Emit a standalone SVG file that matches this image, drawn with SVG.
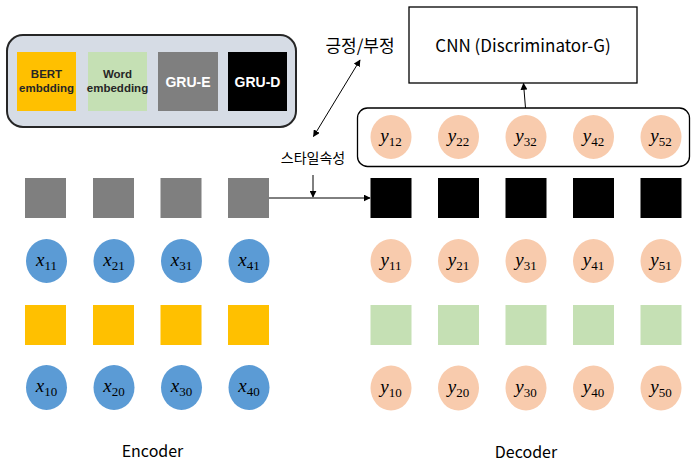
<svg xmlns="http://www.w3.org/2000/svg" width="691" height="463" viewBox="0 0 691 463">
<defs>
<style>
.gray{fill:#7f7f7f}
.blk{fill:#000}
.yel{fill:#ffc000}
.grn{fill:#c5e0b4}
.blue{fill:#5b9bd5}
.peach{fill:#f8cbad}
.m{font-family:"Liberation Serif",serif;font-style:italic;font-size:19px;fill:#000;text-anchor:middle}
.sub{font-style:normal;font-size:13px}
.lbl{font-family:"Noto Sans CJK KR","Noto Sans",sans-serif;fill:#000}
.leg{font-family:"Liberation Sans",sans-serif;font-weight:bold;text-anchor:middle}
.ln{stroke:#000;stroke-width:1;fill:none}
</style>
<marker id="ah" viewBox="0 0 10 10" refX="9" refY="5" markerWidth="7" markerHeight="7" orient="auto-start-reverse" markerUnits="userSpaceOnUse">
<path d="M0,0 L10,5 L0,10 z" fill="#000"/>
</marker>
</defs>
<rect width="691" height="463" fill="#fff"/>

<g id="legend">
<rect x="7" y="35" width="289" height="92" rx="16" fill="#d6dce5" stroke="#262626" stroke-width="2"/>
<rect x="17" y="52" width="59" height="59" class="yel"/>
<text class="leg" x="46.5" y="78" font-size="11.5" fill="#262626">BERT</text>
<text class="leg" x="46.5" y="92" font-size="11.5" fill="#262626">embdding</text>
<rect x="88" y="52" width="59" height="59" class="grn"/>
<text class="leg" x="117.5" y="78" font-size="11.5" fill="#262626">Word</text>
<text class="leg" x="117.5" y="92" font-size="11.5" fill="#262626">embedding</text>
<rect x="158" y="52" width="60" height="59" class="gray"/>
<text class="leg" x="188" y="87" font-size="14" fill="#fff">GRU-E</text>
<rect x="228" y="52" width="59" height="59" class="blk"/>
<text class="leg" x="257.5" y="87" font-size="14" fill="#fff">GRU-D</text>
</g>

<g id="cnn">
<rect x="409" y="7" width="228" height="76" fill="#fff" stroke="#000" stroke-width="1.3"/>
<text class="lbl" x="523" y="52" font-size="17" text-anchor="middle">CNN (Discriminator-G)</text>
</g>

<g id="label-sentiment">
<text class="lbl" x="360" y="52" font-size="17" text-anchor="middle">긍정/부정</text>
</g>
<g id="label-style">
<text class="lbl" x="313" y="163" font-size="14" text-anchor="middle">스타일속성</text>
</g>

<g id="decoder-output-box">
<rect x="357.5" y="108" width="332" height="58.5" rx="10" fill="#fff" stroke="#000" stroke-width="1.3"/>
</g>

<g id="encoder-gru">
<rect x="25" y="178" width="41" height="40" class="gray"/>
<rect x="93" y="178" width="41" height="40" class="gray"/>
<rect x="160.5" y="178" width="41" height="40" class="gray"/>
<rect x="228" y="178" width="41" height="40" class="gray"/>
</g>
<g id="encoder-x1">
<ellipse cx="46.5" cy="261" rx="20.5" ry="22" class="blue"/><text class="m" x="46.5" y="266">x<tspan class="sub" dy="4">11</tspan></text>
<ellipse cx="114" cy="261" rx="20.5" ry="22" class="blue"/><text class="m" x="114" y="266">x<tspan class="sub" dy="4">21</tspan></text>
<ellipse cx="181.5" cy="261" rx="20.5" ry="22" class="blue"/><text class="m" x="181.5" y="266">x<tspan class="sub" dy="4">31</tspan></text>
<ellipse cx="249" cy="261" rx="20.5" ry="22" class="blue"/><text class="m" x="249" y="266">x<tspan class="sub" dy="4">41</tspan></text>
</g>
<g id="encoder-bert">
<rect x="25" y="305" width="41" height="40" class="yel"/>
<rect x="93" y="305" width="41" height="40" class="yel"/>
<rect x="160.5" y="305" width="41" height="40" class="yel"/>
<rect x="228" y="305" width="41" height="40" class="yel"/>
</g>
<g id="encoder-x0">
<ellipse cx="46.5" cy="387.5" rx="20.5" ry="22.5" class="blue"/><text class="m" x="46.5" y="392">x<tspan class="sub" dy="4">10</tspan></text>
<ellipse cx="114" cy="387.5" rx="20.5" ry="22.5" class="blue"/><text class="m" x="114" y="392">x<tspan class="sub" dy="4">20</tspan></text>
<ellipse cx="181.5" cy="387.5" rx="20.5" ry="22.5" class="blue"/><text class="m" x="181.5" y="392">x<tspan class="sub" dy="4">30</tspan></text>
<ellipse cx="249" cy="387.5" rx="20.5" ry="22.5" class="blue"/><text class="m" x="249" y="392">x<tspan class="sub" dy="4">40</tspan></text>
</g>
<g id="encoder-label">
<text class="lbl" x="152.5" y="457" font-size="16" text-anchor="middle">Encoder</text>
</g>

<g id="decoder-y2">
<ellipse cx="391" cy="137" rx="20.5" ry="22" class="peach"/><text class="m" x="391" y="142">y<tspan class="sub" dy="4">12</tspan></text>
<ellipse cx="458.5" cy="137" rx="20.5" ry="22" class="peach"/><text class="m" x="458.5" y="142">y<tspan class="sub" dy="4">22</tspan></text>
<ellipse cx="526" cy="137" rx="20.5" ry="22" class="peach"/><text class="m" x="526" y="142">y<tspan class="sub" dy="4">32</tspan></text>
<ellipse cx="593.5" cy="137" rx="20.5" ry="22" class="peach"/><text class="m" x="593.5" y="142">y<tspan class="sub" dy="4">42</tspan></text>
<ellipse cx="661" cy="137" rx="20.5" ry="22" class="peach"/><text class="m" x="661" y="142">y<tspan class="sub" dy="4">52</tspan></text>
</g>
<g id="decoder-gru">
<rect x="370.5" y="178" width="41" height="40" class="blk"/>
<rect x="438" y="178" width="41" height="40" class="blk"/>
<rect x="505.5" y="178" width="41" height="40" class="blk"/>
<rect x="573" y="178" width="41" height="40" class="blk"/>
<rect x="640.5" y="178" width="41" height="40" class="blk"/>
</g>
<g id="decoder-y1">
<ellipse cx="391" cy="261" rx="20.5" ry="22" class="peach"/><text class="m" x="391" y="266">y<tspan class="sub" dy="4">11</tspan></text>
<ellipse cx="458.5" cy="261" rx="20.5" ry="22" class="peach"/><text class="m" x="458.5" y="266">y<tspan class="sub" dy="4">21</tspan></text>
<ellipse cx="526" cy="261" rx="20.5" ry="22" class="peach"/><text class="m" x="526" y="266">y<tspan class="sub" dy="4">31</tspan></text>
<ellipse cx="593.5" cy="261" rx="20.5" ry="22" class="peach"/><text class="m" x="593.5" y="266">y<tspan class="sub" dy="4">41</tspan></text>
<ellipse cx="661" cy="261" rx="20.5" ry="22" class="peach"/><text class="m" x="661" y="266">y<tspan class="sub" dy="4">51</tspan></text>
</g>
<g id="decoder-word">
<rect x="370.5" y="305" width="41" height="40" class="grn"/>
<rect x="438" y="305" width="41" height="40" class="grn"/>
<rect x="505.5" y="305" width="41" height="40" class="grn"/>
<rect x="573" y="305" width="41" height="40" class="grn"/>
<rect x="640.5" y="305" width="41" height="40" class="grn"/>
</g>
<g id="decoder-y0">
<ellipse cx="391" cy="388" rx="20.5" ry="22.5" class="peach"/><text class="m" x="391" y="393">y<tspan class="sub" dy="4">10</tspan></text>
<ellipse cx="458.5" cy="388" rx="20.5" ry="22.5" class="peach"/><text class="m" x="458.5" y="393">y<tspan class="sub" dy="4">20</tspan></text>
<ellipse cx="526" cy="388" rx="20.5" ry="22.5" class="peach"/><text class="m" x="526" y="393">y<tspan class="sub" dy="4">30</tspan></text>
<ellipse cx="593.5" cy="388" rx="20.5" ry="22.5" class="peach"/><text class="m" x="593.5" y="393">y<tspan class="sub" dy="4">40</tspan></text>
<ellipse cx="661" cy="388" rx="20.5" ry="22.5" class="peach"/><text class="m" x="661" y="393">y<tspan class="sub" dy="4">50</tspan></text>
</g>
<g id="decoder-label">
<text class="lbl" x="526" y="458" font-size="16" text-anchor="middle">Decoder</text>
</g>

<g id="connectors">
<line class="ln" x1="269" y1="198" x2="370" y2="198" marker-end="url(#ah)"/>
<line class="ln" x1="313" y1="175" x2="313" y2="197" marker-end="url(#ah)"/>
<line class="ln" x1="360" y1="60" x2="313.5" y2="136.5" marker-start="url(#ah)" marker-end="url(#ah)"/>
<line class="ln" x1="525.5" y1="108" x2="523.5" y2="83.5" marker-end="url(#ah)"/>
</g>
</svg>
